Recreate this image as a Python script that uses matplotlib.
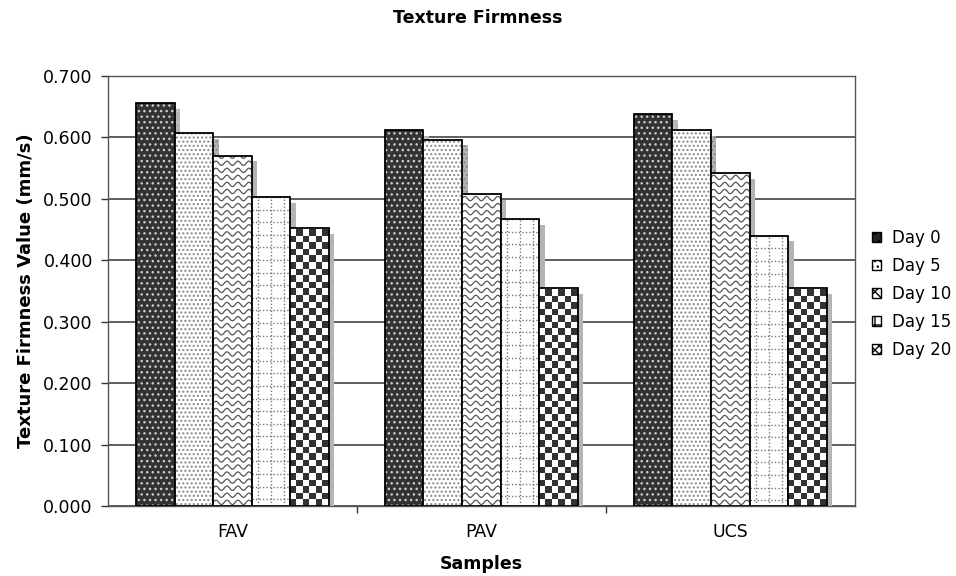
import numpy as np
import matplotlib
matplotlib.use("Agg")
import matplotlib.pyplot as plt
import matplotlib.patheffects as pe
from matplotlib.patches import Patch

samples = ["FAV", "PAV", "UCS"]
days = ["Day 0", "Day 5", "Day 10", "Day 15", "Day 20"]
day0 = [0.656, 0.612, 0.638]
day5 = [0.607, 0.596, 0.612]
day10 = [0.570, 0.508, 0.542]
day15 = [0.503, 0.467, 0.440]
day20 = [0.452, 0.355, 0.355]
series = [day0, day5, day10, day15, day20]

plt.rcParams["font.family"] = "DejaVu Sans"
plt.rcParams["hatch.linewidth"] = 1.0

fig = plt.figure(figsize=(9.56, 5.76), dpi=100)
fig.patch.set_facecolor("white")
ax = fig.add_axes([0.113, 0.1215, 0.781, 0.7465])

x = np.arange(len(samples))
width = 0.155
shadow = [pe.withSimplePatchShadow(offset=(4, -4), shadow_rgbFace="#b4b4b4", alpha=1.0)]


def wave_lines(bar):
    # wavy fill clipped to the bar
    x0, w, h = bar.get_x(), bar.get_width(), bar.get_height()
    xs = np.linspace(x0, x0 + w, 80)
    for yb in np.arange(0.006, h + 0.012, 0.0115):
        ys = yb + 0.0035 * np.sin((xs - x0) / w * 2 * np.pi * 3.5)
        ln, = ax.plot(xs, ys, color="#555555", lw=0.9, zorder=3)
        ln.set_clip_path(bar)


def dotted_grid(bar):
    x0, w, h = bar.get_x(), bar.get_width(), bar.get_height()
    for xv in np.arange(x0 + 0.026, x0 + w, 0.052):
        ln, = ax.plot([xv, xv], [0, h], color="#777777", lw=1.0, ls=(0, (1, 1.5)), zorder=3)
        ln.set_clip_path(bar)
    for yv in np.arange(0.0, h, 0.0205):
        ln, = ax.plot([x0, x0 + w], [h - yv, h - yv], color="#777777", lw=1.0,
                      ls=(0, (1, 1.5)), zorder=3)
        ln.set_clip_path(bar)


def checker(bar):
    x0, w, h = bar.get_x(), bar.get_width(), bar.get_height()
    nx = 6
    ny = int(round(h / 0.0107))
    img = (np.add.outer(np.arange(ny), np.arange(nx)) % 2).astype(float)
    im = ax.imshow(img, extent=(x0, x0 + w, 0, ny * 0.0107), cmap="gray_r",
                   vmin=0, vmax=1.25, interpolation="nearest", aspect="auto", zorder=3,
                   origin="upper")
    im.set_clip_path(bar)


for i, vals in enumerate(series):
    xpos = x + (i - 2) * width
    if i == 0:
        bars = ax.bar(xpos, vals, width, color="#333333", edgecolor="#cccccc",
                      hatch="...", linewidth=0, zorder=3)
    elif i == 1:
        bars = ax.bar(xpos, vals, width, color="white", edgecolor="#888888",
                      hatch="....", linewidth=0, zorder=3)
    else:
        bars = ax.bar(xpos, vals, width, color="white", linewidth=0, zorder=3)
    for b in bars:
        b.set_path_effects(shadow)
        if i == 2:
            wave_lines(b)
        elif i == 3:
            dotted_grid(b)
        elif i == 4:
            checker(b)
    ax.bar(xpos, vals, width, facecolor="none", edgecolor="black", linewidth=1.3, zorder=3)

ax.set_xlim(-0.5, 2.5)
ax.set_ylim(0, 0.7)
ax.set_yticks(np.arange(0, 0.71, 0.1))
ax.set_yticklabels([f"{v:.3f}" for v in np.arange(0, 0.71, 0.1)], fontsize=12.5)
ax.yaxis.grid(True, color="#333333", linewidth=1.1, zorder=0)
ax.set_axisbelow(True)

ax.set_xticks(x)
ax.set_xticklabels(samples, fontsize=12.5)
ax.tick_params(axis="x", length=0, pad=12)
ax.set_xticks([0.5, 1.5], minor=True)
ax.tick_params(axis="x", which="minor", length=5, width=1, color="#333333")
ax.tick_params(axis="y", length=5, width=1, color="#333333", pad=6)
for s in ax.spines.values():
    s.set_color("#555555")
    s.set_linewidth(1.0)

ax.set_ylabel("Texture Firmness Value (mm/s)", fontsize=13, fontweight="bold", labelpad=6)
ax.set_xlabel("Samples", fontsize=12.5, fontweight="bold", labelpad=10)
fig.text(0.5, 0.968, "Texture Firmness", ha="center", va="center", fontsize=12.5,
         fontweight="bold")

handles = [
    Patch(facecolor="#222222", edgecolor="black", hatch=".."),
    Patch(facecolor="white", edgecolor="black", hatch="..."),
    Patch(facecolor="white", edgecolor="black", hatch="xx"),
    Patch(facecolor="white", edgecolor="black", hatch="+"),
    Patch(facecolor="white", edgecolor="black", hatch="xxxx"),
]
fig.legend(handles, days, loc="upper left", bbox_to_anchor=(0.912, 0.603),
           frameon=False, fontsize=12, handlelength=0.55, handleheight=0.55,
           handletextpad=0.65, labelspacing=0.6, borderpad=0, borderaxespad=0)

fig.savefig("out.png", dpi=100, facecolor="white")
